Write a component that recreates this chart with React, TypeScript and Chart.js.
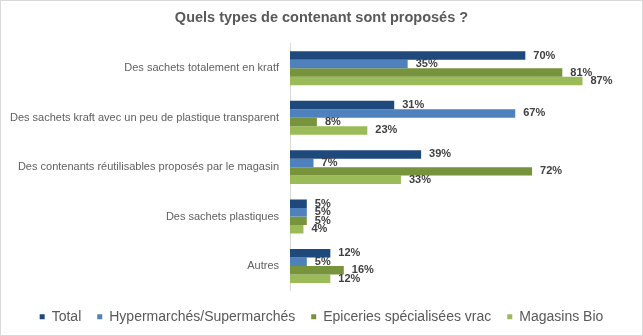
import React, { useEffect, useRef } from "react";
import { Chart, registerables } from "chart.js";

Chart.register(...registerables);

const title = "Quels types de contenant sont proposés ?";
const categories = [
  "Des sachets totalement en kratf",
  "Des sachets kraft avec un peu de plastique transparent",
  "Des contenants réutilisables proposés par le magasin",
  "Des sachets plastiques",
  "Autres",
];
const seriesNames = [
  "Total",
  "Hypermarchés/Supermarchés",
  "Epiceries spécialisées vrac",
  "Magasins Bio",
];
const totalValues = [70, 31, 39, 5, 12];
const hyperValues = [35, 67, 7, 5, 5];
const epicerieValues = [81, 8, 72, 5, 16];
const bioValues = [87, 23, 33, 4, 12];
const seriesColors = ["#1F497D", "#4F81BD", "#77933C", "#9BBB59"];

const FONT = "'Liberation Sans', Arial, sans-serif";

const valueLabels = {
  id: "valueLabels",
  afterDatasetsDraw(chart: any) {
    const ctx = chart.ctx;
    ctx.save();
    ctx.font = `bold 11px ${FONT}`;
    ctx.fillStyle = "#404040";
    ctx.textAlign = "left";
    ctx.textBaseline = "middle";
    chart.data.datasets.forEach((ds: any, i: number) => {
      const meta = chart.getDatasetMeta(i);
      meta.data.forEach((bar: any, j: number) => {
        ctx.fillText(`${ds.data[j]}%`, bar.x + 8, bar.y);
      });
    });
    ctx.restore();
  },
};

export default function App() {
  const canvasRef = useRef<HTMLCanvasElement | null>(null);

  useEffect(() => {
    const canvas = canvasRef.current;
    if (!canvas) return;
    const allValues = [totalValues, hyperValues, epicerieValues, bioValues];
    const chart = new Chart(canvas, {
      type: "bar",
      data: {
        labels: categories,
        datasets: seriesNames.map((name, i) => ({
          label: name,
          data: allValues[i],
          backgroundColor: seriesColors[i],
          borderWidth: 0,
          categoryPercentage: 0.687,
          barPercentage: 1,
        })),
      },
      options: {
        indexAxis: "y",
        responsive: false,
        animation: false,
        devicePixelRatio: 1,
        layout: { padding: { left: 0, right: 0, top: 0, bottom: 2.3 } },
        scales: {
          x: {
            min: 0,
            max: 105,
            display: true,
            grid: { display: false, drawTicks: false },
            border: { display: false },
            ticks: { display: false },
            afterFit: (s: any) => {
              s.height = 3;
            },
          },
          y: {
            grid: { display: false, drawTicks: false },
            border: { display: true, color: "#D9D9D9", width: 1 },
            ticks: {
              padding: 11,
              color: "#606060",
              font: { family: FONT, size: 11 },
            },
            afterFit: (s: any) => {
              s.width = 290;
            },
          },
        },
        plugins: {
          title: {
            display: true,
            text: title,
            color: "#595959",
            font: { family: FONT, size: 14.5, weight: "bold" },
            padding: { top: 9, bottom: 17.15 },
          },
          legend: {
            display: true,
            position: "bottom",
            align: "center",
            labels: {
              boxWidth: 5,
              boxHeight: 5,
              padding: 16,
              color: "#595959",
              font: { family: FONT, size: 14 },
            },
          },
          tooltip: { enabled: false },
        },
      },
      plugins: [valueLabels],
    });
    return () => chart.destroy();
  }, []);

  return (
    <div
      style={{
        position: "fixed",
        left: 0,
        top: 0,
        width: 643,
        height: 336,
        background: "#ffffff",
      }}
    >
      <canvas ref={canvasRef} width={643} height={336} style={{ display: "block" }} />
      <div
        style={{
          position: "absolute",
          left: 0,
          top: 0,
          width: 643,
          height: 336,
          boxSizing: "border-box",
          border: "1px solid #D9D9D9",
          pointerEvents: "none",
        }}
      />
    </div>
  );
}
